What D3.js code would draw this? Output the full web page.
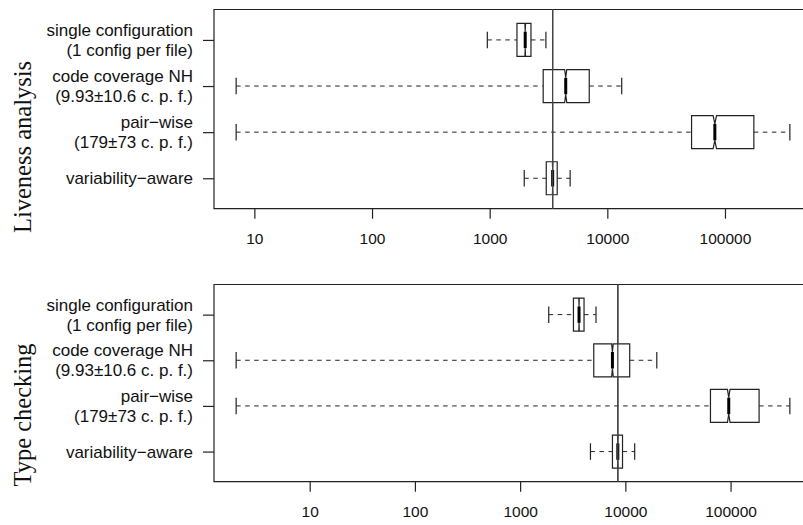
<!DOCTYPE html>
<html>
<head>
<meta charset="utf-8">
<script src="https://d3js.org/d3.v7.min.js"></script>
<style>
  body { margin: 0; background: #fff; }
  text { font-family: "Liberation Sans", Arial, Helvetica, sans-serif; fill: #111; }
  .title { font-family: "Liberation Serif", "Times New Roman", serif; }
</style>
</head>
<body>
<div id="chart"></div>
<script>
// categories (two-line labels, R draws "-" as a minus sign)
var methods = ["single configuration\n(1 config per file)",
               "code coverage NH\n(9.93\u00b110.6 c. p. f.)",
               "pair\u2212wise\n(179\u00b173 c. p. f.)",
               "variability\u2212aware"];

// Liveness analysis: whisker low, Q1, median, Q3, whisker high, notch limits
var liveLow  = [955, 7, 7, 1967];
var liveQ1   = [1706, 2850, 52000, 3027];
var liveMed  = [2005, 4430, 82000, 3430];
var liveQ3   = [2244, 7020, 176000, 3750];
var liveHigh = [3006, 13250, 356000, 4830];
var liveNotchLo = [1993, 4339, 79300, 3414];
var liveNotchHi = [2017, 4521, 84700, 3446];

// Type checking
var typeLow  = [1870, 2, 2, 4660];
var typeQ1   = [3212, 5010, 64400, 7540];
var typeMed  = [3630, 7540, 96100, 8480];
var typeQ3   = [4050, 11000, 186700, 9400];
var typeHigh = [5260, 19900, 366000, 12270];
var typeNotchLo = [3612, 7410, 93430, 8440];
var typeNotchHi = [3648, 7670, 98770, 8520];

var tickValues = [10, 100, 1000, 10000, 100000];

var width = 803, height = 525;
var left = 214, right = 812;   // plot runs past the right edge, as in the original

var svg = d3.select("#chart").append("svg")
    .attr("width", width)
    .attr("height", height);

function drawPanel(title, low, q1, med, q3, high, nlo, nhi, top, bottom, titleY) {
  var g = svg.append("g");

  // log x scale, R style: data range widened by 4% on each side
  var lo = Math.log10(d3.min(low)), hi = Math.log10(d3.max(high));
  var pad = (hi - lo) * 0.04;
  var x = d3.scaleLog()
      .domain([Math.pow(10, lo - pad), Math.pow(10, hi + pad)])
      .range([left, right]);

  var y = d3.scalePoint()
      .domain(methods)
      .range([top, bottom])
      .padding(0.66);

  var w = 16.5; // half box height

  // frame
  g.append("path")
      .attr("d", "M" + (right + 5) + "," + top + "H" + left + "V" + bottom + "H" + (right + 5))
      .attr("fill", "none")
      .attr("stroke", "#222")
      .attr("stroke-width", 1.2);

  // x axis
  var xAxis = g.append("g")
      .attr("transform", "translate(0," + bottom + ")")
      .call(d3.axisBottom(x).tickValues(tickValues).tickFormat(d3.format("d")).tickSize(10).tickPadding(14));
  xAxis.select(".domain").remove();
  xAxis.selectAll("line").attr("stroke", "#222").attr("stroke-width", 1.2);
  xAxis.selectAll("text").attr("font-size", "15.5px").attr("fill", "#111")
      .attr("font-family", "Liberation Sans, Arial, sans-serif");

  // y axis ticks and two-line labels
  var yAxis = g.append("g")
      .attr("transform", "translate(" + left + ",0)")
      .call(d3.axisLeft(y).tickSize(11).tickFormat(""));
  yAxis.select(".domain").remove();
  yAxis.selectAll("line").attr("stroke", "#222").attr("stroke-width", 1.2);

  methods.forEach(function (m) {
    var lines = m.split("\n");
    var t = g.append("text")
        .attr("text-anchor", "end")
        .attr("font-size", "17px");
    var start = y(m) - (lines.length - 1) * 10 + 6;
    lines.forEach(function (l, i) {
      t.append("tspan").attr("x", 193).attr("y", start + i * 20).text(l);
    });
  });

  // reference line at the variability-aware median
  var refVal = med[3];
  g.append("line")
      .attr("x1", x(refVal)).attr("x2", x(refVal))
      .attr("y1", top).attr("y2", bottom)
      .attr("stroke", "#444")
      .attr("stroke-width", 1.3);

  methods.forEach(function (m, i) {
    var cy = y(m);
    var bx = g.append("g");
    // whiskers
    [[low[i], q1[i]], [q3[i], high[i]]].forEach(function (s) {
      bx.append("line")
          .attr("x1", x(s[0])).attr("x2", x(s[1]))
          .attr("y1", cy).attr("y2", cy)
          .attr("stroke", "#222")
          .attr("stroke-dasharray", "4.5,4.5");
    });
    // staples
    [low[i], high[i]].forEach(function (v) {
      bx.append("line")
          .attr("x1", x(v)).attr("x2", x(v))
          .attr("y1", cy - w / 2).attr("y2", cy + w / 2)
          .attr("stroke", "#222")
          .attr("stroke-width", 1.2);
    });
    // notched box
    var pts = [[q1[i], -w], [q1[i], w], [nlo[i], w], [med[i], w / 2], [nhi[i], w],
               [q3[i], w], [q3[i], -w], [nhi[i], -w], [med[i], -w / 2], [nlo[i], -w]];
    bx.append("polygon")
        .attr("points", pts.map(function (p) { return x(p[0]) + "," + (cy + p[1]); }).join(" "))
        .attr("fill", "#fff")
        .attr("stroke", "#222")
        .attr("stroke-width", 1.2);
    // median
    bx.append("line")
        .attr("x1", x(med[i])).attr("x2", x(med[i]))
        .attr("y1", cy - w / 2).attr("y2", cy + w / 2)
        .attr("stroke", "#000")
        .attr("stroke-width", 3);
  });

  // reference line drawn on top again so it crosses the boxes
  g.append("line")
      .attr("x1", x(refVal)).attr("x2", x(refVal))
      .attr("y1", top).attr("y2", bottom)
      .attr("stroke", "#444")
      .attr("stroke-width", 1.3);

  g.append("text")
      .attr("class", "title")
      .attr("transform", "translate(31," + titleY + ") rotate(-90)")
      .attr("text-anchor", "middle")
      .attr("font-size", "24.5px")
      .text(title);
}

drawPanel("Liveness analysis", liveLow, liveQ1, liveMed, liveQ3, liveHigh, liveNotchLo, liveNotchHi, 9.5, 208.7, 147);
drawPanel("Type checking", typeLow, typeQ1, typeMed, typeQ3, typeHigh, typeNotchLo, typeNotchHi, 284.5, 481.7, 415);
</script>
</body>
</html>
